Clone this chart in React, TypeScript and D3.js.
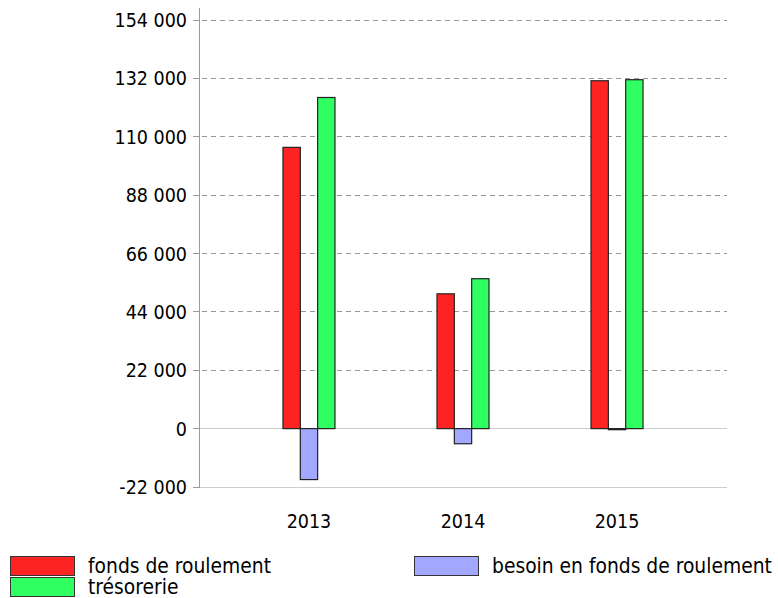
import * as d3 from 'd3';

const years = ['2013', '2014', '2015'];
const seriesKeys = ['fonds', 'besoin', 'tresorerie'];
const seriesLabels = ['fonds de roulement', 'besoin en fonds de roulement', 'trésorerie'];
const seriesColors = ['#ff2424', '#a2a8ff', '#30ff62'];
const fondsValues = [106000, 50800, 131100];
const besoinValues = [-19200, -5700, -400];
const tresorerieValues = [124800, 56500, 131500];
const yTicks = [-22000, 0, 22000, 44000, 66000, 88000, 110000, 132000, 154000];

const W = 778;
const H = 598;
const FONT = "'DejaVu Sans Condensed', 'DejaVu Sans', sans-serif";

const fmt = d3.formatLocale({ decimal: ',', thousands: ' ', grouping: [3], currency: ['', '€'], minus: '-' }).format(',d');

export default function App() {
  const y = d3.scaleLinear().domain([-22000, 154000]).range([487, 20]);
  const x = d3.scaleBand<string>().domain(years).range([199, 727]).paddingInner(0).paddingOuter(0.214);
  const groupW = 52;
  const inner = d3.scaleBand<string>().domain(seriesKeys).range([0, groupW]).padding(0);
  const valuesBySeries = [fondsValues, besoinValues, tresorerieValues];

  const legend = [
    { i: 0, x: 10, y: 556 },
    { i: 2, x: 10, y: 577 },
    { i: 1, x: 414, y: 556 },
  ];

  return (
    <svg width={W} height={H} style={{ position: 'absolute', left: 0, top: 0, fontFamily: FONT, fontStretch: 'condensed' }}>
      {/* grid */}
      {yTicks.map(t => (
        <g key={t}>
          <line
            x1={193}
            x2={727}
            y1={y(t)}
            y2={y(t)}
            stroke={t <= 0 ? '#cccccc' : '#9a9a9a'}
            strokeWidth={1}
            strokeDasharray={t <= 0 ? undefined : '5,4'}
            shapeRendering="crispEdges"
          />
          <line x1={193} x2={199} y1={y(t)} y2={y(t)} stroke="#9a9a9a" shapeRendering="crispEdges" />
          <text x={187} y={y(t)} dy="0.36em" textAnchor="end" fontSize={19.5} fill="#000">
            {fmt(t)}
          </text>
        </g>
      ))}
      <line x1={199.5} x2={199.5} y1={8} y2={488} stroke="#9a9a9a" />

      {/* bars */}
      {years.map((yr, yi) => {
        const gx = (x(yr) ?? 0) + x.bandwidth() / 2 - groupW / 2;
        return (
          <g key={yr}>
            {seriesKeys.map((k, si) => {
              const v = valuesBySeries[si][yi];
              const y0 = y(Math.max(0, v));
              const y1 = y(Math.min(0, v));
              return (
                <rect
                  key={k}
                  x={gx + (inner(k) ?? 0)}
                  y={y0}
                  width={inner.bandwidth()}
                  height={Math.max(1, y1 - y0)}
                  fill={seriesColors[si]}
                  stroke="#222"
                  strokeWidth={1.2}
                />
              );
            })}
            <text x={(x(yr) ?? 0) + x.bandwidth() / 2} y={528} textAnchor="middle" fontSize={19.5} fill="#000">
              {yr}
            </text>
          </g>
        );
      })}

      {/* legend */}
      {legend.map(l => (
        <g key={l.i}>
          <rect x={l.x + 0.5} y={l.y + 0.5} width={64} height={19} fill={seriesColors[l.i]} stroke="#333" />
          <text x={l.x + 78} y={l.y + 17} fontSize={20.8} fill="#000">
            {seriesLabels[l.i]}
          </text>
        </g>
      ))}
    </svg>
  );
}
